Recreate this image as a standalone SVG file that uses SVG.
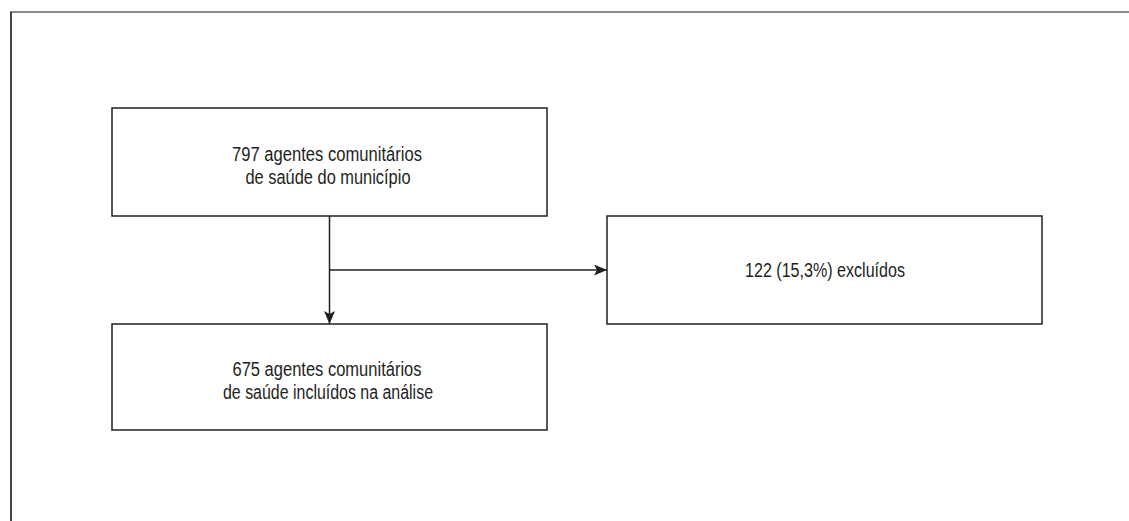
<svg xmlns="http://www.w3.org/2000/svg" width="1129" height="521" viewBox="0 0 1129 521">
<style>
.box{fill:#fff;stroke:#231f20;stroke-width:1.5}
.t{font-family:"Liberation Sans",Arial,sans-serif;font-size:20px;fill:#231f20;text-anchor:middle}
.c{stroke:#231f20;stroke-width:1.5;fill:none}
</style>
<defs>
<marker id="ah" markerWidth="13" markerHeight="11" refX="13" refY="5.5" orient="auto" markerUnits="userSpaceOnUse">
<path d="M0,0 L13,5.5 L0,11 L3,5.5 Z" fill="#231f20"/>
</marker>
</defs>
<rect width="1129" height="521" fill="#fff"/>
<g id="frame">
<line x1="10" y1="12" x2="1129" y2="12" stroke="#8c8c8c" stroke-width="2"/>
<line x1="11" y1="12" x2="11" y2="521" stroke="#333" stroke-width="1.8"/>
</g>
<g id="connectors">
<line class="c" x1="329.5" y1="216" x2="329.5" y2="324" marker-end="url(#ah)"/>
<line class="c" x1="329.5" y1="270" x2="607" y2="270" marker-end="url(#ah)"/>
</g>
<g id="node1">
<rect class="box" x="112" y="108" width="435" height="108"/>
<text class="t" x="327" y="161" textLength="190" lengthAdjust="spacingAndGlyphs">797 agentes comunitários</text>
<text class="t" x="328" y="184" textLength="165" lengthAdjust="spacingAndGlyphs">de saúde do município</text>
</g>
<g id="node2">
<rect class="box" x="112" y="324" width="435" height="106"/>
<text class="t" x="327" y="376" textLength="189" lengthAdjust="spacingAndGlyphs">675 agentes comunitários</text>
<text class="t" x="328" y="399" textLength="210" lengthAdjust="spacingAndGlyphs">de saúde incluídos na análise</text>
</g>
<g id="node3">
<rect class="box" x="607" y="216" width="435" height="108"/>
<text class="t" x="825" y="277" textLength="160" lengthAdjust="spacingAndGlyphs">122 (15,3%) excluídos</text>
</g>
</svg>
